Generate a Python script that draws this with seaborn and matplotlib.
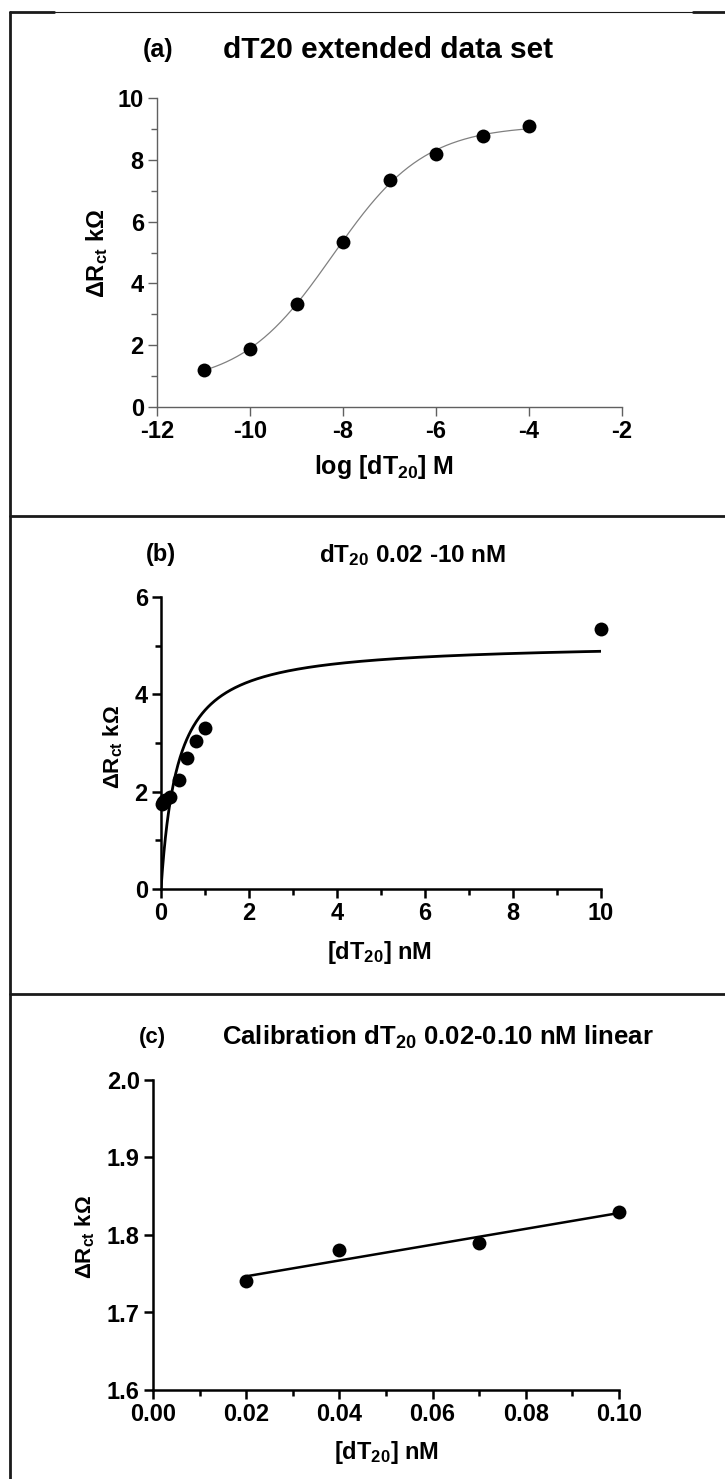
import numpy as np
import pandas as pd
import seaborn as sns
import matplotlib.pyplot as plt
from matplotlib.lines import Line2D
from matplotlib.ticker import MultipleLocator, FormatStrFormatter

# 数据
a_logx = [-11, -10, -9, -8, -7, -6, -5, -4]
a_rct = [1.20, 1.88, 3.32, 5.35, 7.35, 8.18, 8.78, 9.08]

b_conc = [0.02, 0.04, 0.07, 0.10, 0.2, 0.4, 0.6, 0.8, 1.0, 10]
b_rct = [1.74, 1.78, 1.79, 1.83, 1.89, 2.23, 2.70, 3.05, 3.31, 5.35]
# (b) 中单位点结合拟合参数
b_bmax = 5.07
b_kd = 0.38

c_conc = [0.02, 0.04, 0.07, 0.10]
c_rct = [1.74, 1.78, 1.79, 1.83]

W, H = 725, 1479


def fx(x):
    return x / W


def fy(y):
    return 1 - y / H


# 字体设置
sns.set_theme(style='ticks')
plt.rcParams['font.family'] = ['Liberation Sans', 'DejaVu Sans']
plt.rcParams['font.weight'] = 'bold'
plt.rcParams['text.color'] = 'black'
plt.rcParams['axes.unicode_minus'] = False
plt.rcParams['mathtext.fontset'] = 'custom'
plt.rcParams['mathtext.rm'] = 'Liberation Sans:bold'
plt.rcParams['mathtext.it'] = 'Liberation Sans:bold'
plt.rcParams['mathtext.bf'] = 'Liberation Sans:bold'
plt.rcParams['mathtext.sf'] = 'Liberation Sans'

ylab = r'$\mathsf{Δ}$R$_{ct}$ k$\mathsf{Ω}$'

fig = plt.figure(figsize=(W / 100, H / 100), dpi=100)


def style(ax, color, lw):
    sns.despine(ax=ax)
    for s in ['left', 'bottom']:
        ax.spines[s].set_color(color)
        ax.spines[s].set_linewidth(lw)
    ax.tick_params(which='both', direction='out', color=color, width=lw,
                   labelsize=17, labelcolor='black')
    ax.tick_params(which='major', length=6.5, pad=3)
    ax.tick_params(which='minor', length=4)
    ax.set_xlabel('')
    ax.set_ylabel('')


# ---------- (a) ----------
ax_a = fig.add_axes([fx(157), fy(407), 465 / W, 309 / H])
# 四参数 logistic 拟合 (网格搜索 + 线性最小二乘)
xa = np.array(a_logx, float)
ya = np.array(a_rct, float)
best = None
for c in np.linspace(-10, -6, 201):
    for h in np.linspace(0.2, 1.5, 131):
        s = 1 / (1 + 10 ** ((c - xa) * h))
        A = np.column_stack([1 - s, s])
        coef, res, *_ = np.linalg.lstsq(A, ya, rcond=None)
        err = np.sum((A @ coef - ya) ** 2)
        if best is None or err < best[0]:
            best = (err, c, h, coef)
_, c, h, (bot, top) = best
xs = np.linspace(-11, -4, 300)
ys = bot + (top - bot) / (1 + 10 ** ((c - xs) * h))
sns.lineplot(x=xs, y=ys, ax=ax_a, color='#808080', linewidth=0.9)
sns.scatterplot(x=a_logx, y=a_rct, ax=ax_a, color='black', s=100, linewidth=0, zorder=3)
ax_a.set_xlim(-12, -2)
ax_a.set_ylim(0, 10)
ax_a.set_xticks(range(-12, -1, 2))
ax_a.yaxis.set_major_locator(MultipleLocator(2))
ax_a.yaxis.set_minor_locator(MultipleLocator(1))
style(ax_a, '#606060', 1.0)

fig.text(fx(158), fy(50), '(a)', ha='center', va='center', fontsize=18)
fig.text(fx(388), fy(50), 'dT20 extended data set', ha='center', va='center', fontsize=21.5)
fig.text(fx(97), fy(253), ylab, rotation=90, ha='center', va='center', fontsize=17)
fig.text(fx(384), fy(467), 'log [dT$_{20}$] M', ha='center', va='center', fontsize=18)

# ---------- (b) ----------
ax_b = fig.add_axes([fx(161), fy(889), 440 / W, 292 / H])
xb = np.linspace(0, 10, 600)
yb = b_bmax * xb / (b_kd + xb)
sns.lineplot(x=xb, y=yb, ax=ax_b, color='black', linewidth=2.0)
sns.scatterplot(x=b_conc, y=b_rct, ax=ax_b, color='black', s=100, linewidth=0, zorder=3,
                clip_on=False)
ax_b.set_xlim(0, 10)
ax_b.set_ylim(0, 6)
ax_b.xaxis.set_major_locator(MultipleLocator(2))
ax_b.xaxis.set_minor_locator(MultipleLocator(1))
ax_b.yaxis.set_major_locator(MultipleLocator(2))
ax_b.yaxis.set_minor_locator(MultipleLocator(1))
style(ax_b, 'black', 1.8)

fig.text(fx(161), fy(555), '(b)', ha='center', va='center', fontsize=17)
fig.text(fx(413), fy(555), 'dT$_{20}$ 0.02 -10 nM', ha='center', va='center', fontsize=17.5)
fig.text(fx(113), fy(747), ylab, rotation=90, ha='center', va='center', fontsize=16)
fig.text(fx(379), fy(953), '[dT$_{20}$] nM', ha='center', va='center', fontsize=17)

# ---------- (c) ----------
ax_c = fig.add_axes([fx(153), fy(1390), 466 / W, 310 / H])
sns.regplot(x=c_conc, y=c_rct, ax=ax_c, ci=None, color='black',
            scatter_kws=dict(s=100, linewidths=0, zorder=3, clip_on=False, alpha=1),
            line_kws=dict(lw=1.8))
ax_c.set_xlim(0, 0.10)
ax_c.set_ylim(1.6, 2.0)
ax_c.xaxis.set_major_locator(MultipleLocator(0.02))
ax_c.xaxis.set_minor_locator(MultipleLocator(0.01))
ax_c.xaxis.set_major_formatter(FormatStrFormatter('%.2f'))
ax_c.yaxis.set_major_locator(MultipleLocator(0.1))
ax_c.yaxis.set_major_formatter(FormatStrFormatter('%.1f'))
style(ax_c, 'black', 1.8)

fig.text(fx(152), fy(1037), '(c)', ha='center', va='center', fontsize=16)
fig.text(fx(438), fy(1037), 'Calibration dT$_{20}$ 0.02-0.10 nM linear', ha='center', va='center',
         fontsize=18.5)
fig.text(fx(85), fy(1237), ylab, rotation=90, ha='center', va='center', fontsize=16)
fig.text(fx(386), fy(1453), '[dT$_{20}$] nM', ha='center', va='center', fontsize=17)

# ---------- 外框 ----------
frame = '#1a1a1a'
fig.add_artist(Line2D([fx(10), fx(10)], [fy(12), 0], color=frame, lw=2))
fig.add_artist(Line2D([fx(10), fx(54)], [fy(12), fy(12)], color=frame, lw=2))
fig.add_artist(Line2D([fx(54), fx(693)], [fy(12), fy(12)], color=frame, lw=0.8))
fig.add_artist(Line2D([fx(693), 1], [fy(12), fy(12)], color=frame, lw=2))
for yy in [516, 994]:
    fig.add_artist(Line2D([fx(10), 1], [fy(yy), fy(yy)], color=frame, lw=2))

fig.savefig('out.png', dpi=100)
